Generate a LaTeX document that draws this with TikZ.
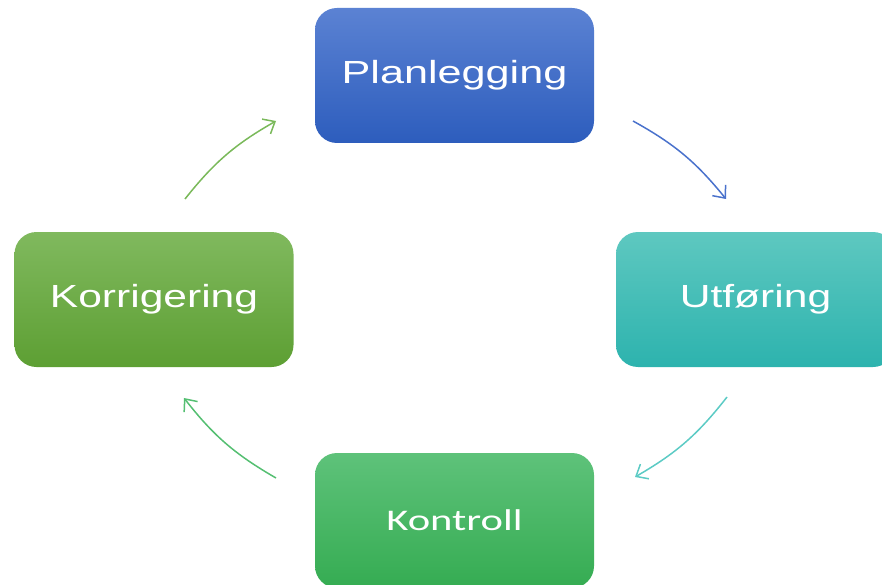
\documentclass[tikz,border=0pt]{standalone}
\usepackage{fontspec}
\setmainfont{Liberation Sans}
\newfontfamily\calib{Carlito}
\usetikzlibrary{arrows.meta}
\definecolor{bluetop}{HTML}{5B82D3}
\definecolor{bluebot}{HTML}{2D5DBD}
\definecolor{tealtop}{HTML}{5EC8C0}
\definecolor{tealbot}{HTML}{2DB3AE}
\definecolor{olivetop}{HTML}{80B95E}
\definecolor{olivebot}{HTML}{5D9F33}
\definecolor{greentop}{HTML}{5EC27A}
\definecolor{greenbot}{HTML}{35AC52}
\definecolor{arblue}{HTML}{4A72CC}
\definecolor{arteal}{HTML}{5CCBC5}
\definecolor{argreen}{HTML}{55BF72}
\definecolor{arolive}{HTML}{7AB95A}
\tikzset{
  stepbox/.style={rounded corners=22pt, minimum width=279pt, minimum height=135pt,
    inner sep=0pt, text=white, font=\fontsize{32}{36}\selectfont, shading angle=0},
  cyc/.style={line width=1.5pt, -{Straight Barb[length=10pt,width=17pt,line width=1.5pt]}},
}
\begin{document}
\begin{tikzpicture}[x=1pt,y=-1pt]
\useasboundingbox (0,0) rectangle (882,585);
\clip (0,0) rectangle (882,585);
\node[stepbox, top color=bluetop, bottom color=bluebot] (plan) at (454.5,75.5) {\scalebox{1.35}[1]{Planlegging}};
\node[stepbox, top color=tealtop, bottom color=tealbot] (utf) at (755.5,299.5) {\scalebox{1.33}[1]{Utføring}};
\node[stepbox, top color=olivetop, bottom color=olivebot] (korr) at (154,299.5) {\scalebox{1.33}[1]{Korrigering}};
\node[stepbox, top color=greentop, bottom color=greenbot, font=\calib\fontsize{30}{34}\selectfont] (kon) at (454.5,520.5) {\scalebox{1.42}[1]{Kontroll}};
\coordinate (a1s) at (633,121);
\coordinate (a1e) at (726,199);
\coordinate (a2s) at (727,397);
\coordinate (a2e) at (635,477);
\coordinate (a3s) at (276,478);
\coordinate (a3e) at (184,398);
\coordinate (a4s) at (185,199);
\coordinate (a4e) at (276,121);
\draw[cyc, arblue] (a1s) to[bend left=11] (a1e);
\draw[cyc, arteal] (a2s) to[bend left=11] (a2e);
\draw[cyc, argreen] (a3s) to[bend left=11] (a3e);
\draw[cyc, arolive] (a4s) to[bend left=11] (a4e);
\end{tikzpicture}
\end{document}
